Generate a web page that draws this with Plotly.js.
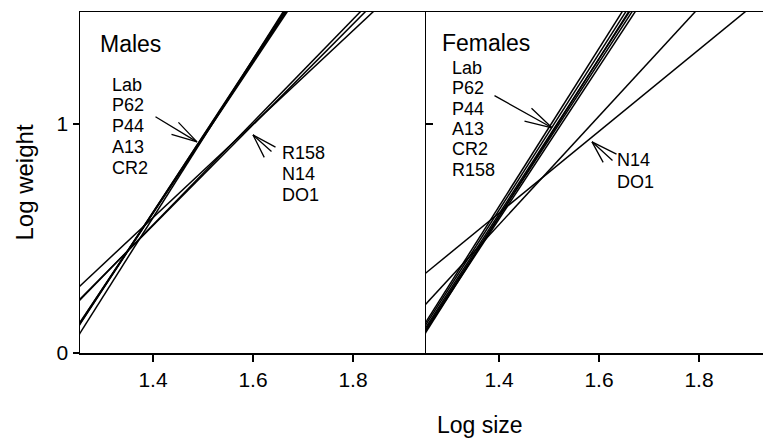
<!DOCTYPE html>
<html>
<head>
<meta charset="utf-8">
<script src="https://cdn.plot.ly/plotly-3.0.1.min.js"></script>
<style>
  html, body { margin: 0; padding: 0; background: #fff; }
  #chart { width: 763px; height: 438px; }
</style>
</head>
<body>
<div id="chart"></div>
<script>
// ---- Data (regression lines: log weight at the two ends of the log-size range) ----
const logSizeEnds = [1.25, 1.95];

const maleNames = ['Lab', 'P62', 'P44', 'A13', 'CR2', 'R158', 'N14', 'DO1'];
const maleWeightStart = [0.118, 0.115, 0.121, 0.113, 0.073, 0.223, 0.227, 0.285];
const maleWeightEnd   = [2.438, 2.429, 2.413, 2.453, 2.492, 1.795, 1.767, 1.715];

const femaleNames = ['Lab', 'P62', 'P44', 'A13', 'CR2', 'R158', 'N14', 'DO1'];
const femaleWeightStart = [0.122, 0.111, 0.100, 0.092, 0.086, 0.078, 0.343, 0.205];
const femaleWeightEnd   = [2.540, 2.505, 2.470, 2.446, 2.415, 2.495, 1.594, 1.865];

const xTickVals = [1.4, 1.6, 1.8];
const xTickText = ['1.4', '1.6', '1.8'];
const yTickVals = [0, 1];
const yTickText = ['0', '1'];

const maleSteepLabels = ['Lab', 'P62', 'P44', 'A13', 'CR2'];
const maleShallowLabels = ['R158', 'N14', 'DO1'];
const femaleSteepLabels = ['Lab', 'P62', 'P44', 'A13', 'CR2', 'R158'];
const femaleShallowLabels = ['N14', 'DO1'];

// ---- Traces ----
const FONT = 'Liberation Sans, Arial, Helvetica, sans-serif';
const traces = [];
maleNames.forEach((n, i) => {
  traces.push({
    type: 'scatter', mode: 'lines', name: 'Males ' + n,
    x: logSizeEnds, y: [maleWeightStart[i], maleWeightEnd[i]],
    xaxis: 'x', yaxis: 'y',
    line: { color: '#000', width: 1.5 }, showlegend: false, hoverinfo: 'skip'
  });
});
femaleNames.forEach((n, i) => {
  traces.push({
    type: 'scatter', mode: 'lines', name: 'Females ' + n,
    x: logSizeEnds, y: [femaleWeightStart[i], femaleWeightEnd[i]],
    xaxis: 'x2', yaxis: 'y2',
    line: { color: '#000', width: 1.5 }, showlegend: false, hoverinfo: 'skip'
  });
});

// ---- Annotations ----
const ann = [];
function label(xref, yref, x, y, text, size, shift) {
  ann.push({
    xref: xref, yref: yref, x: x, y: y, text: text, showarrow: false,
    xanchor: 'left', yanchor: 'middle', yshift: shift || 0,
    borderpad: 0, borderwidth: 0,
    font: { family: FONT, size: size, color: '#000' }
  });
}
function list(xref, yref, x, y, items, size, step) {
  items.forEach((t, i) => label(xref, yref, x, y, t, size, -i * step));
}
function arrow(xref, yref, x, y, tail, barbs) {
  [tail].concat(barbs).forEach(o => {
    ann.push({
      xref: xref, yref: yref, x: x, y: y, text: '', showarrow: true,
      axref: 'pixel', ayref: 'pixel', ax: o[0], ay: o[1],
      arrowhead: 0, arrowwidth: 1.3, arrowcolor: '#000',
      standoff: 0, startstandoff: 0
    });
  });
}

label('x', 'y', 1.294, 1.351, 'Males', 23);
list('x', 'y', 1.318, 1.172, maleSteepLabels, 18, 20.7);
list('x', 'y', 1.658, 0.8745, maleShallowLabels, 18, 21);
arrow('x', 'y', 1.488, 0.9226, [-43, -26], [[-20, -21], [-27, -8]]);
arrow('x', 'y', 1.600, 0.953, [24, 13], [[12, 24], [20, 18]]);

label('x2', 'y2', 1.286, 1.355, 'Females', 23);
list('x2', 'y2', 1.306, 1.246, femaleSteepLabels, 18, 20.4);
list('x2', 'y2', 1.636, 0.844, femaleShallowLabels, 18, 22);
arrow('x2', 'y2', 1.506, 0.984, [-59, -33], [[-22, -21], [-29, -7]]);
arrow('x2', 'y2', 1.586, 0.9226, [26, 13], [[12, 22], [22, 20]]);

ann.push({
  xref: 'paper', yref: 'paper', x: 0.5857, y: -0.211, text: 'Log size',
  showarrow: false, xanchor: 'center', yanchor: 'middle',
  font: { family: FONT, size: 23, color: '#000' }
});

// ---- Layout ----
const axisCommon = {
  showgrid: false, zeroline: false, showline: true, linecolor: '#000', linewidth: 1.5,
  tickcolor: '#000', tickwidth: 1.5, tickfont: { family: FONT, size: 21, color: '#000' }
};
const split = 346 / 683;
const layout = {
  width: 763, height: 438,
  margin: { l: 80, r: 0, t: 12, b: 85, pad: 0 },
  paper_bgcolor: '#fff', plot_bgcolor: '#fff',
  showlegend: false,
  xaxis: Object.assign({}, axisCommon, {
    domain: [0, split], range: [1.254, 1.946], anchor: 'y', mirror: true,
    tickvals: xTickVals, ticktext: xTickText, ticks: 'outside', ticklen: 7
  }),
  xaxis2: Object.assign({}, axisCommon, {
    domain: [split, 1], range: [1.254, 1.928], anchor: 'y2', mirror: true,
    tickvals: xTickVals, ticktext: xTickText, ticks: 'outside', ticklen: 7
  }),
  yaxis: Object.assign({}, axisCommon, {
    domain: [0, 1], range: [0, 1.49], anchor: 'x',
    tickvals: yTickVals, ticktext: yTickText, ticks: 'outside', ticklen: 6,
    title: { text: 'Log weight', font: { family: FONT, size: 24, color: '#000' }, standoff: 16 }
  }),
  yaxis2: Object.assign({}, axisCommon, {
    domain: [0, 1], range: [0, 1.49], anchor: 'x2',
    tickvals: yTickVals, ticktext: yTickText, ticks: 'inside', ticklen: 7,
    showticklabels: false
  }),
  annotations: ann
};

Plotly.newPlot('chart', traces, layout, { staticPlot: true, displayModeBar: false });
</script>
</body>
</html>
